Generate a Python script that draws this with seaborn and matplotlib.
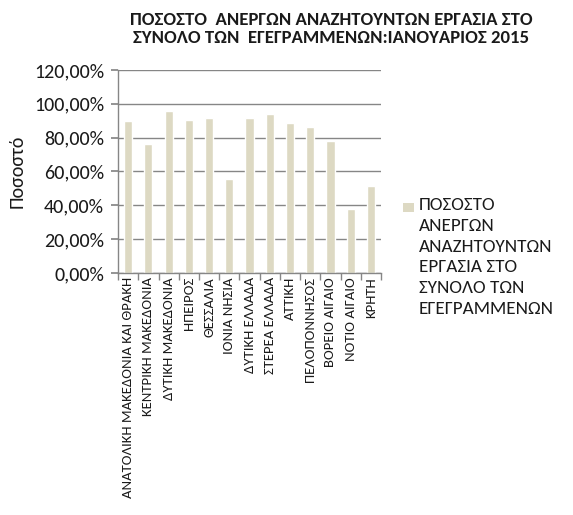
import matplotlib
matplotlib.use("Agg")
import matplotlib.pyplot as plt
from matplotlib.patches import Rectangle
import seaborn as sns
import pandas as pd
import numpy as np
from matplotlib.ticker import FuncFormatter, FixedLocator

# --- data ---
regions = [
    "ΑΝΑΤΟΛΙΚΗ ΜΑΚΕΔΟΝΙΑ ΚΑΙ ΘΡΑΚΗ",
    "ΚΕΝΤΡΙΚΗ ΜΑΚΕΔΟΝΙΑ",
    "ΔΥΤΙΚΗ ΜΑΚΕΔΟΝΙΑ",
    "ΗΠΕΙΡΟΣ",
    "ΘΕΣΣΑΛΙΑ",
    "ΙΟΝΙΑ ΝΗΣΙΑ",
    "ΔΥΤΙΚΗ ΕΛΛΑΔΑ",
    "ΣΤΕΡΕΑ ΕΛΛΑΔΑ",
    "ΑΤΤΙΚΗ",
    "ΠΕΛΟΠΟΝΝΗΣΟΣ",
    "ΒΟΡΕΙΟ ΑΙΓΑΙΟ",
    "ΝΟΤΙΟ ΑΙΓΑΙΟ",
    "ΚΡΗΤΗ",
]
share = [0.899, 0.762, 0.955, 0.904, 0.919, 0.553, 0.919, 0.941, 0.884, 0.866, 0.783, 0.380, 0.516]
yticks = [0.0, 0.2, 0.4, 0.6, 0.8, 1.0, 1.2]

title = "ΠΟΣΟΣΤΟ  ΑΝΕΡΓΩΝ ΑΝΑΖΗΤΟΥΝΤΩΝ ΕΡΓΑΣΙΑ ΣΤΟ\nΣΥΝΟΛΟ ΤΩΝ  ΕΓΕΓΡΑΜΜΕΝΩΝ:ΙΑΝΟΥΑΡΙΟΣ 2015"
series_label = "ΠΟΣΟΣΤΟ\nΑΝΕΡΓΩΝ\nΑΝΑΖΗΤΟΥΝΤΩΝ\nΕΡΓΑΣΙΑ ΣΤΟ\nΣΥΝΟΛΟ ΤΩΝ\nΕΓΕΓΡΑΜΜΕΝΩΝ"

df = pd.DataFrame({"Περιφέρεια": regions, "Ποσοστό": share})

sns.set_theme(style="white")
plt.rcParams["font.family"] = ["Carlito", "DejaVu Sans"]

BAR = "#DDD9C3"
GRID = "#868686"
TXT = "#1a1a1a"

fig = plt.figure(figsize=(5.73, 5.15), dpi=100)
ax = fig.add_axes([0.206, 0.470, 0.459, 0.394])

sns.barplot(data=df, x="Περιφέρεια", y="Ποσοστό", color=BAR, width=0.4,
            saturation=1, ax=ax)

ax.set_ylim(0, 1.2)
ax.set_xlim(-0.5, len(regions) - 0.5)
ax.yaxis.set_major_locator(FixedLocator(yticks))
ax.yaxis.set_major_formatter(FuncFormatter(lambda v, p: f"{v * 100:.2f}%".replace(".", ",")))
ax.grid(axis="y", color=GRID, linewidth=1)
ax.set_axisbelow(True)

for s in ["top", "right"]:
    ax.spines[s].set_visible(False)
for s in ["left", "bottom"]:
    ax.spines[s].set_color(GRID)
    ax.spines[s].set_linewidth(1)

ax.tick_params(axis="y", which="major", left=True, length=5, color=GRID,
               labelsize=14.5, labelcolor=TXT, pad=5)
ax.tick_params(axis="x", which="major", length=0, labelsize=10.6,
               labelrotation=90, labelcolor=TXT, pad=3)
ax.set_xticks(np.arange(len(regions)))
ax.set_xticklabels(regions)
ax.set_xticks(np.arange(len(regions) + 1) - 0.5, minor=True)
ax.tick_params(axis="x", which="minor", bottom=True, length=5, color=GRID)

ax.set_xlabel("")
ax.set_ylabel("Ποσοστό", fontsize=14.5, labelpad=6, color=TXT)

fig.text(0.578, 0.944, title, ha="center", va="center", fontsize=13.5,
         fontweight="bold", linespacing=1.2, color=TXT)

# legend drawn by hand so the key sits on the first line of the label
fig.patches.append(Rectangle((403 / 573, 1 - 212 / 515), 11 / 573, 9 / 515,
                             transform=fig.transFigure, facecolor=BAR,
                             edgecolor="none"))
fig.text(419 / 573, 1 - 197 / 515, series_label, ha="left", va="top",
         fontsize=13.75, linespacing=1.37, color=TXT)

fig.savefig("out.png", dpi=100)
